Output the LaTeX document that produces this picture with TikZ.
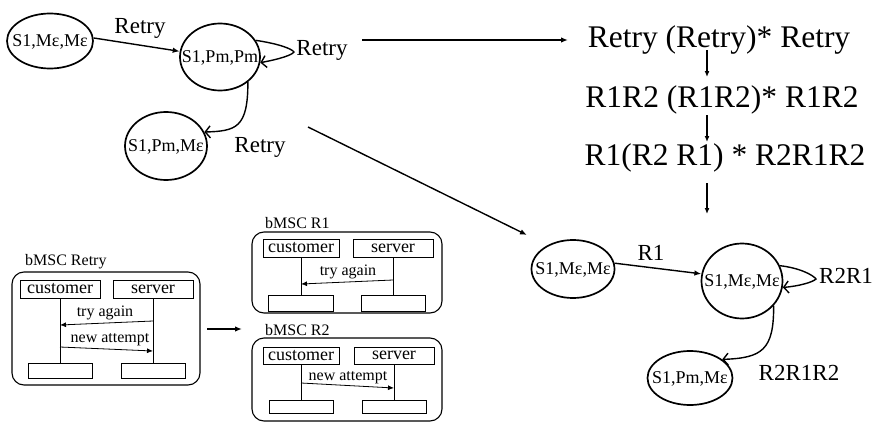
\documentclass[tikz,border=0pt]{standalone}
\usepackage{fontspec}
\setmainfont{Liberation Serif}
\usetikzlibrary{arrows.meta,shapes.geometric}
\newcommand{\elltext}[1]{\raisebox{-0.33em}[0pt][0pt]{\makebox[0pt]{#1}}}
\begin{document}
\begin{tikzpicture}[x=1pt,y=-1pt,
  st/.style={draw,ellipse,line width=1.7pt,inner sep=0pt,font=\fontsize{18}{20}\selectfont},
  lbl/.style={font=\fontsize{23}{26}\selectfont,inner sep=0pt},
  big/.style={font=\fontsize{31.5}{34}\selectfont,inner sep=0pt},
  tr/.style={line width=1.4pt,-{Latex[length=7pt,width=5.5pt]}},
  trb/.style={line width=1.4pt,-{Straight Barb[length=5pt,width=12pt,line width=1.4pt]}},
  longarr/.style={line width=1.4pt,-{Latex[length=7pt,width=5.5pt]}},
  varr/.style={line width=1.2pt,-{Latex[length=6pt,width=5pt]}},
  frm/.style={draw,rectangle,rounded corners=12pt,line width=1.1pt,inner sep=0pt},
  bx/.style={draw,rectangle,line width=0.9pt,inner sep=0pt,font=\fontsize{18}{20}\selectfont},
  ll/.style={line width=0.9pt},
  msg/.style={line width=0.8pt,-{Latex[length=6pt,width=5pt]}},
  msglbl/.style={font=\fontsize{16}{18}\selectfont,inner sep=0pt},
  ttl/.style={font=\fontsize{16}{18}\selectfont,inner sep=0pt,anchor=west}
]
\useasboundingbox (0,0) rectangle (876,423);

% ---------- top-left graph ----------
\node[st,minimum width=86pt,minimum height=55pt] (A) at (50,41) {\elltext{S1,Mε,Mε}};
\node[st,minimum width=80pt,minimum height=67pt] (B) at (220,57) {\elltext{S1,Pm,Pm}};
\node[st,minimum width=82pt,minimum height=68pt] (C) at (166,146) {\elltext{S1,Pm,Mε}};
\draw[tr] (A.4) -- (B.172);
\node[lbl] (lab1) at (140,28) {Retry};
\draw[trb] (B.25) .. controls (280,44) and (292,49) .. (294,52) .. controls (292,55) and (280,59) .. (B.-8);
\node[lbl] (lab2) at (322,50) {Retry};
\draw[trb] (B.-42) .. controls (248,128) and (236,131) .. (C.20);
\node[lbl] (lab3) at (260,147) {Retry};

% ---------- long arrows ----------
\coordinate (h1) at (362,40);
\coordinate (h2) at (568,40);
\draw[longarr] (h1) -- (h2);
\coordinate (d1) at (308,127);
\coordinate (d2) at (527,235);
\draw[longarr] (d1) -- (d2);

% ---------- right text column ----------
\node[big] (T1) at (719,40) {Retry (Retry)* Retry};
\node[big] (T2) at (722,100) {R1R2 (R1R2)* R1R2};
\node[big] (T3) at (725,158) {R1(R2 R1) * R2R1R2};
\coordinate (v1a) at (707,50);
\coordinate (v1b) at (707,77);
\coordinate (v2a) at (707,115);
\coordinate (v2b) at (707,142);
\coordinate (v3a) at (707,183);
\coordinate (v3b) at (707,214);
\draw[varr] (v1a) -- (v1b);
\draw[varr] (v2a) -- (v2b);
\draw[varr] (v3a) -- (v3b);

% ---------- bottom-right graph ----------
\node[st,minimum width=83pt,minimum height=58pt] (D) at (573,269) {\elltext{S1,Mε,Mε}};
\node[st,minimum width=81pt,minimum height=75pt] (E) at (742,281) {\elltext{S1,Mε,Mε}};
\node[st,minimum width=85pt,minimum height=54pt] (F) at (690,378) {\elltext{S1,Pm,Mε}};
\draw[tr] (D.8) -- (E.170);
\node[lbl] (lab4) at (651,253) {R1};
\draw[trb] (E.22) .. controls (800,268) and (813,275) .. (816,279) .. controls (813,282) and (800,286) .. (E.-9);
\node[lbl] (lab5) at (846,276) {R2R1};
\draw[trb] (E.-38) .. controls (774,350) and (762,358) .. (F.30);
\node[lbl] (lab6) at (799,373) {R2R1R2};

% ---------- bMSC Retry ----------
\node[ttl] (t0) at (25,262) {bMSC Retry};
\node[frm,minimum width=188pt,minimum height=113pt] (f0) at (106,328.5) {};
\node[bx,minimum width=80pt,minimum height=18pt] (cu0) at (60,289) {customer};
\node[bx,minimum width=80pt,minimum height=18pt] (sv0) at (153,289) {server};
\node[bx,minimum width=64pt,minimum height=15pt] (cb0) at (60,370.5) {};
\node[bx,minimum width=64pt,minimum height=15pt] (sb0) at (153,370.5) {};
\draw[ll] (cu0.south) -- (cb0.north);
\draw[ll] (sv0.south) -- (sb0.north);
\coordinate (m0a) at (153,321);
\coordinate (m0b) at (60,325);
\coordinate (m0c) at (60,347);
\coordinate (m0d) at (153,351);
\draw[msg] (m0a) -- (m0b);
\node[msglbl] (ml0a) at (105,313) {try again};
\draw[msg] (m0c) -- (m0d);
\node[msglbl] (ml0b) at (110,340) {new attempt};

\coordinate (x1) at (207,329);
\coordinate (x2) at (242,329);
\draw[longarr] (x1) -- (x2);

% ---------- bMSC R1 ----------
\node[ttl] (t1) at (265,223) {bMSC R1};
\node[frm,minimum width=190pt,minimum height=81pt] (f1) at (347,272.5) {};
\node[bx,minimum width=76pt,minimum height=18pt] (cu1) at (301,248) {customer};
\node[bx,minimum width=80pt,minimum height=18pt] (sv1) at (393,248) {server};
\node[bx,minimum width=65pt,minimum height=16pt] (cb1) at (301,303) {};
\node[bx,minimum width=64pt,minimum height=16pt] (sb1) at (393,303) {};
\draw[ll] (cu1.south) -- (cb1.north);
\draw[ll] (sv1.south) -- (sb1.north);
\coordinate (m1a) at (393,280);
\coordinate (m1b) at (301,284);
\draw[msg] (m1a) -- (m1b);
\node[msglbl] (ml1) at (348,272) {try again};

% ---------- bMSC R2 ----------
\node[ttl] (t2) at (265,330) {bMSC R2};
\node[frm,minimum width=190pt,minimum height=83pt] (f2) at (347,379.5) {};
\node[bx,minimum width=76pt,minimum height=17pt] (cu2) at (301,355.5) {customer};
\node[bx,minimum width=80pt,minimum height=17pt] (sv2) at (394,355.5) {server};
\node[bx,minimum width=64pt,minimum height=13pt] (cb2) at (301,406.5) {};
\node[bx,minimum width=64pt,minimum height=13pt] (sb2) at (394,406.5) {};
\draw[ll] (cu2.south) -- (cb2.north);
\draw[ll] (sv2.south) -- (sb2.north);
\coordinate (m2a) at (301,383);
\coordinate (m2b) at (394,388);
\draw[msg] (m2a) -- (m2b);
\node[msglbl] (ml2) at (348,378) {new attempt};
\end{tikzpicture}
\end{document}
